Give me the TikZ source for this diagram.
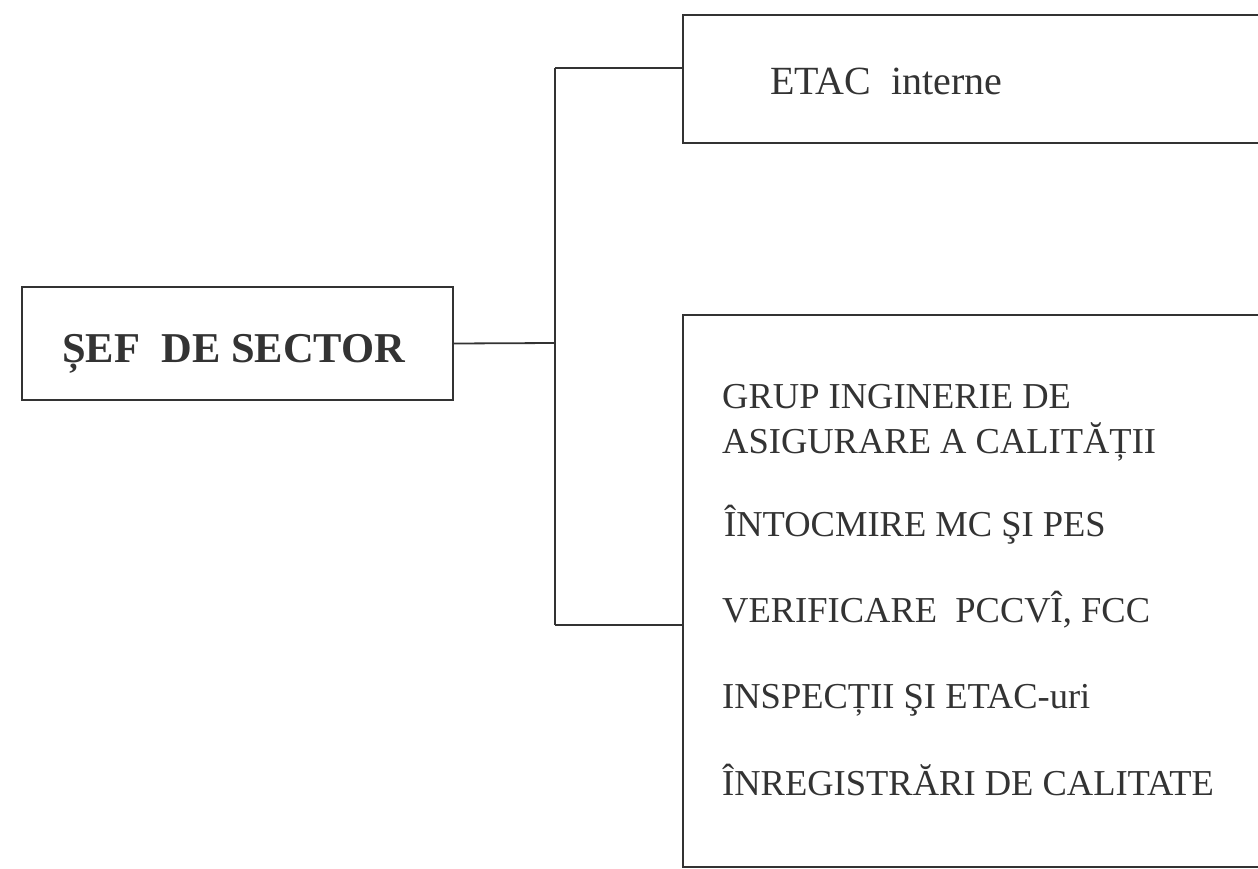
\documentclass[tikz,border=0pt]{standalone}
\usepackage{fontspec}
\setmainfont{Liberation Serif}
\begin{document}
\begin{tikzpicture}[x=1pt,y=-1pt,
  ink/.style={draw=black!80, line width=1.8pt},
  frame/.style={ink, rectangle, inner sep=0pt},
  label/.style={anchor=base west, inner sep=0pt, text=black!80},
  item/.style={label, font=\fontsize{36.5}{42}\selectfont}]
  \useasboundingbox (0,0) rectangle (1258,869);
  \clip (0,0) rectangle (1258,869);

  % boxes
  \node[frame, minimum width=431pt, minimum height=113pt] (sef) at (237.5,343.5) {};
  \node[frame, minimum width=637pt, minimum height=128pt] (etac) at (1001.5,79) {};
  \node[frame, minimum width=637pt, minimum height=552pt] (grup) at (1001.5,591) {};

  % texts
  \node[label, font=\fontsize{42.5}{48}\selectfont\bfseries] (tsef) at (62,362) {ȘEF\ \ DE SECTOR};
  \node[item, font=\fontsize{40}{46}\selectfont] (tetac) at (770,95) {ETAC\ \ interne};
  \node[item] (t1) at (722,408) {GRUP INGINERIE DE};
  \node[item] (t2) at (722,453) {ASIGURARE A CALITĂȚII};
  \node[item] (t3) at (724,536) {ÎNTOCMIRE MC ŞI PES};
  \node[item] (t4) at (722,622) {VERIFICARE\ \ PCCVÎ, FCC};
  \node[item] (t5) at (722,708) {INSPECȚII ŞI ETAC-uri};
  \node[item] (t6) at (722,795) {ÎNREGISTRĂRI DE CALITATE};

  % connectors
  \coordinate (j) at (555,343);
  \coordinate (jt) at (555,68);
  \coordinate (jb) at (555,625);
  \draw[ink] (sef.east) -- (j);
  \draw[ink] (jt) -- (jb);
  \draw[ink] (jt) -- (etac.west |- jt);
  \draw[ink] (jb) -- (grup.west |- jb);
\end{tikzpicture}
\end{document}
